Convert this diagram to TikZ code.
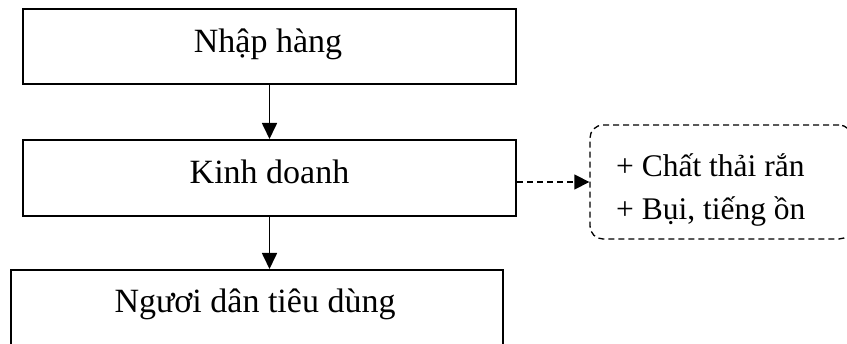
\documentclass[tikz,border=0pt]{standalone}
\usepackage{fontspec}
\setmainfont{Liberation Serif}
\usetikzlibrary{arrows.meta}
\begin{document}
\begin{tikzpicture}[x=1pt,y=-1pt,
  box/.style={draw,line width=2pt,rectangle,inner sep=0pt},
  lbl/.style={inner sep=0pt,anchor=base,font=\fontsize{34}{40}\selectfont},
  arr/.style={line width=1.7pt,-{Triangle[length=16pt,width=15pt]}},
  darr/.style={line width=1.3pt,dash pattern=on 6pt off 4pt,-{Triangle[length=15pt,width=15pt]}}]
\useasboundingbox (0,0) rectangle (847,344);
\clip (0,0) rectangle (847,344);
\node[box,minimum width=493pt,minimum height=75pt] (b1) at (269.5,46.5) {};
\node[box,minimum width=493pt,minimum height=76pt] (b2) at (269.5,178) {};
\node[box,minimum width=492pt,minimum height=90pt] (b3) at (257,315) {};
\node[lbl] (t1) at (268,53) {Nhập hàng};
\node[lbl] (t2) at (269.5,184) {Kinh doanh};
\node[lbl] (t3) at (255,313) {Ngươi dân tiêu dùng};
\node[draw,line width=1.3pt,dash pattern=on 6pt off 4pt,rounded corners=13pt,minimum width=262pt,minimum height=114pt,inner sep=0pt] (d) at (721,182) {};
\node[inner sep=0pt,anchor=west,align=left,font=\fontsize{31.5}{43}\selectfont] (dt) at (616,190) {+ Chất thải rắn\\+ Bụi, tiếng ồn};
\draw[arr] (b1.south) -- (b2.north);
\draw[arr] (b2.south) -- (b2.south |- b3.north);
\draw[darr] (b2.east |- d.west) -- (d.west);
\end{tikzpicture}
\end{document}
